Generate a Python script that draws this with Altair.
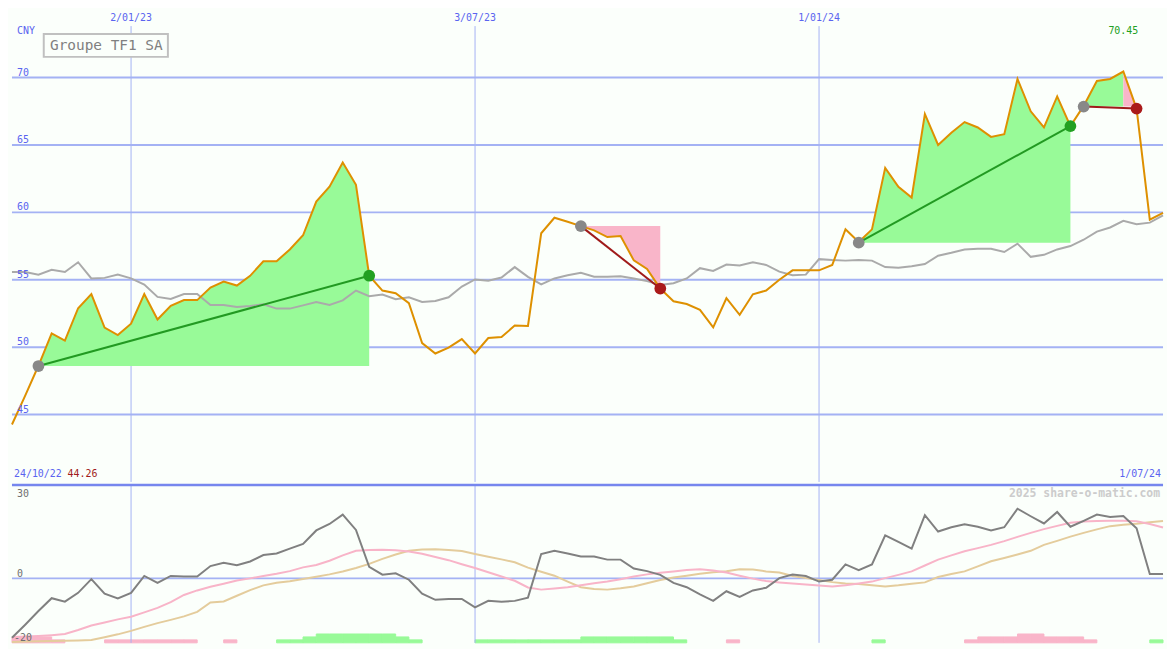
import altair as alt
import pandas as pd

# ---------------- data (weekly points, index 0 .. 87) ----------------
price = [44.26, 46.4, 48.62, 51.02, 50.49, 52.89, 53.94, 51.45, 50.9, 51.74,
         53.94, 52.05, 53.06, 53.49, 53.49, 54.42, 54.86, 54.57, 55.29, 56.37,
         56.37, 57.25, 58.3, 60.8, 61.9, 63.7, 62.05, 55.3, 54.2, 54.0,
         53.27, 50.3, 49.53, 49.96, 50.6, 49.53, 50.68, 50.75, 51.6, 51.57,
         58.45, 59.6, 59.3, 58.98, 58.67, 58.17, 58.24, 56.44, 55.8, 54.35,
         53.4, 53.2, 52.77, 51.47, 53.63, 52.4, 53.92, 54.2, 55.0, 55.7,
         55.7, 55.7, 56.1, 58.74, 57.8, 58.74, 63.3, 61.9, 61.1, 67.3,
         65.0, 65.9, 66.7, 66.3, 65.6, 65.8, 69.9, 67.5, 66.3, 68.6,
         66.4, 67.9, 69.75, 69.9, 70.45, 67.7, 59.46, 59.96]

bench = [55.58, 55.58, 55.38, 55.74, 55.58, 56.3, 55.1, 55.14, 55.38, 55.1,
         54.64, 53.73, 53.58, 53.94, 53.94, 53.13, 53.13, 52.98, 53.06, 53.18,
         52.86, 52.86, 53.1, 53.35, 53.13, 53.47, 54.2, 53.78, 53.9, 53.55,
         53.7, 53.35, 53.42, 53.7, 54.5, 55.02, 54.93, 55.17, 55.94, 55.22,
         54.66, 55.1, 55.34, 55.52, 55.22, 55.22, 55.26, 55.1, 54.9, 54.62,
         54.74, 55.1, 55.86, 55.65, 56.13, 56.06, 56.3, 56.1, 55.6, 55.34,
         55.38, 56.53, 56.46, 56.42, 56.46, 56.42, 55.94, 55.9, 56.0, 56.17,
         56.78, 57.0, 57.25, 57.3, 57.3, 57.06, 57.68, 56.7, 56.85, 57.25,
         57.5, 57.97, 58.57, 58.88, 59.37, 59.12, 59.24, 59.77]

osc = [-22.2, -17.3, -12.2, -7.4, -8.7, -5.4, -0.3, -5.7, -7.5, -5.4,
       0.9, -1.7, 0.9, 0.7, 0.7, 4.6, 5.8, 4.9, 6.3, 8.7,
       9.3, 11.1, 12.9, 17.9, 20.3, 23.8, 18.1, 4.3, 1.4, 1.9,
       -0.5, -5.7, -8.0, -7.7, -7.7, -10.8, -8.4, -8.7, -8.4, -7.2,
       9.1, 10.3, 9.3, 8.2, 8.2, 7.0, 7.0, 3.7, 2.7, 1.3,
       -1.7, -3.3, -6.0, -8.4, -4.8, -6.9, -4.5, -3.5, 0.1, 1.4,
       0.9, -1.2, -0.5, 5.2, 3.1, 5.2, 16.1, 13.6, 11.1, 23.6,
       17.5, 19.1, 20.2, 19.3, 17.9, 19.1, 26.0, 23.2, 20.5, 24.8,
       19.3, 21.5, 23.8, 22.9, 23.3, 18.7, 1.6, 1.6]

osc_signal = [-21.9, -21.7, -21.5, -21.2, -20.8, -19.3, -17.6, -16.5, -15.3, -14.3,
              -12.7, -11.0, -8.9, -6.2, -4.5, -3.1, -2.0, -0.8, 0.0, 0.9,
              1.7, 2.7, 4.1, 5.0, 6.6, 8.6, 10.3, 10.6, 10.7, 10.5,
              10.0, 9.2, 8.0, 6.8, 5.3, 3.9, 2.3, 0.7, -0.9, -3.4,
              -4.2, -3.8, -3.3, -2.6, -1.8, -1.2, -0.3, 0.7, 1.5, 2.1,
              2.6, 3.1, 3.4, 2.9, 2.2, 1.0, -0.1, -1.0, -1.5, -1.9,
              -2.3, -2.7, -3.0, -2.6, -1.9, -1.2, 0.1, 1.3, 2.6, 4.8,
              7.0, 8.6, 10.1, 11.3, 12.5, 13.9, 15.5, 17.0, 18.4, 19.6,
              20.8, 21.2, 21.4, 21.5, 21.5, 21.3, 20.3, 19.0]

osc_slow = [-23.8, -23.6, -23.5, -23.4, -23.3, -23.2, -23.0, -22.0, -20.9, -19.6,
            -18.1, -16.7, -15.5, -14.2, -12.5, -9.0, -8.6, -6.5, -4.4, -2.6,
            -1.6, -1.1, -0.2, 0.6, 1.5, 2.6, 3.9, 5.4, 7.3, 8.9,
            10.3, 10.8, 10.9, 10.6, 10.2, 9.1, 8.1, 7.1, 6.0, 4.0,
            2.5, 1.0, -1.2, -3.3, -4.0, -4.2, -3.7, -3.0, -1.8, -0.6,
            0.3, 1.0, 1.7, 2.3, 2.7, 3.4, 3.3, 2.6, 2.2, 0.9,
            0.1, -0.6, -1.4, -1.9, -2.1, -2.6, -3.0, -2.6, -2.0, -1.5,
            0.5, 1.6, 2.6, 4.5, 6.4, 7.6, 8.9, 10.3, 12.5, 14.0,
            15.6, 17.0, 18.3, 19.5, 20.0, 20.4, 21.0, 21.4]

hist_level = [-2, -2, -2, -1, 0, 0, 0, -1, -1, -1,
              -1, -1, -1, -1, 0, 0, -1, 0, 0, 0,
              1, 1, 2, 3, 3, 3, 3, 3, 3, 2,
              1, 0, 0, 0, 0, 1, 1, 1, 1, 1,
              1, 1, 1, 2, 2, 2, 2, 2, 2, 2,
              1, 0, 0, 0, -1, 0, 0, 0, 0, 0,
              0, 0, 0, 0, 0, 1, 0, 0, 0, 0,
              0, 0, -1, -2, -2, -2, -3, -3, -2, -2,
              -2, -1, 0, 0, 0, 0, 1, 0]

# trades
entry_idx = [2, 43, 64, 81]
exit_idx = [27, 49, 80, 85]
entry_px = [48.6, 58.98, 57.75, 67.85]
exit_px = [55.3, 54.35, 66.4, 67.7]
trade_result = ["win", "loss", "win", "loss"]

# filled zones between price and entry level
fill_start = [2, 43, 64, 81, 84]
fill_end = [27, 49, 80, 84, 85]
fill_base = [48.6, 58.98, 57.75, 67.85, 67.85]
fill_kind = ["gain", "loss", "gain", "gain", "loss"]

price_ticks = [45, 50, 55, 60, 65, 70]
date_ticks = [9, 35, 61]
date_labels = ["2/01/23", "3/07/23", "1/01/24"]
osc_ticks_upper = [30, 0]
osc_ticks_lower = [-20]
first_date, last_date = "24/10/22", "1/07/24"

# ---------------- layout / style ----------------
W, H1, H2 = 1159, 475, 159
XDOM = [0, 87]
YTOP = [40, 75]
YBOT = [-24.07, 34.9]
BG = "#fbfffb"
GRID = "#a4b2f4"
SEP = "#7686ee"
BLUE = "#5a64f0"
FONT = "DejaVu Sans Mono"
ORANGE = "#de9000"
GFILL = "#98fa98"
PFILL = "#f9b5c9"
FILL_COL = {"gain": GFILL, "loss": PFILL}
LINE_COL = {"win": "#229a22", "loss": "#a01a1a"}
DOT_COL = {"entry": "#888888", "win": "#22a022", "loss": "#aa1a1a"}

n = len(price)
df = pd.DataFrame({"i": list(range(n)), "price": price, "bench": bench,
                   "osc": osc, "sig": osc_signal, "slow": osc_slow})

xs = alt.Scale(domain=XDOM, nice=False, zero=False)
yt = alt.Scale(domain=YTOP, nice=False, zero=False)
yb = alt.Scale(domain=YBOT, nice=False, zero=False)
X = alt.X("i:Q", scale=xs, axis=None)

# ---------- top panel ----------
tick_df = pd.DataFrame({"v": price_ticks, "t": [str(v) for v in price_ticks]})
hgrid = alt.Chart(tick_df).mark_rule(color=GRID, strokeWidth=2).encode(
    y=alt.Y("v:Q", scale=yt, axis=None))
hlab = alt.Chart(tick_df).mark_text(font=FONT, fontSize=10, color=BLUE, align="left",
                                    baseline="alphabetic", dy=-2).encode(
    x=alt.value(5), y=alt.Y("v:Q", scale=yt, axis=None), text="t:N")

dt_df = pd.DataFrame({"i": date_ticks, "t": date_labels})
vgrid_top = alt.Chart(dt_df).mark_rule(color=GRID, strokeWidth=1).encode(
    x=alt.X("i:Q", scale=xs, axis=None), y=alt.value(16), y2=alt.value(H1))
dlab = alt.Chart(dt_df).mark_text(font=FONT, fontSize=10, color=BLUE, align="center",
                                  baseline="middle").encode(
    x=alt.X("i:Q", scale=xs, axis=None), y=alt.value(8), text="t:N")

cny = alt.Chart(pd.DataFrame({"t": ["CNY"]})).mark_text(
    font=FONT, fontSize=10, color=BLUE, align="left", baseline="middle").encode(
    x=alt.value(5), y=alt.value(21), text="t:N")

title_df = pd.DataFrame({"t": ["Groupe TF1 SA"]})
tbox = alt.Chart(title_df).mark_rect(fill=BG, stroke="#c0c0c0", strokeWidth=2).encode(
    x=alt.value(32), x2=alt.value(157), y=alt.value(24), y2=alt.value(47))
ttxt = alt.Chart(title_df).mark_text(font=FONT, fontSize=14.5, color="#808080",
                                     align="center", baseline="middle").encode(
    x=alt.value(95), y=alt.value(36), text="t:N")

rows = []
for k, (s, e, b, kind) in enumerate(zip(fill_start, fill_end, fill_base, fill_kind)):
    for i in range(s, e + 1):
        rows.append({"i": i, "price": price[i], "base": b, "seg": k, "col": FILL_COL[kind]})
fill_df = pd.DataFrame(rows)
fills = alt.Chart(fill_df).mark_area(opacity=1, interpolate="linear").encode(
    x=alt.X("i:Q", scale=xs, axis=None),
    y=alt.Y("price:Q", scale=yt, axis=None, stack=None),
    y2="base:Q",
    color=alt.Color("col:N", scale=None),
    detail="seg:N")

bench_line = alt.Chart(df).mark_line(color="#aaaaaa", strokeWidth=2).encode(
    x=X, y=alt.Y("bench:Q", scale=yt, axis=None))
price_line = alt.Chart(df).mark_line(color=ORANGE, strokeWidth=2).encode(
    x=X, y=alt.Y("price:Q", scale=yt, axis=None))

trows, drows = [], []
for k in range(len(entry_idx)):
    c = LINE_COL[trade_result[k]]
    trows.append({"trade": k, "i": entry_idx[k], "px": entry_px[k], "col": c})
    trows.append({"trade": k, "i": exit_idx[k], "px": exit_px[k], "col": c})
    drows.append({"i": entry_idx[k], "px": entry_px[k], "col": DOT_COL["entry"]})
    drows.append({"i": exit_idx[k], "px": exit_px[k], "col": DOT_COL[trade_result[k]]})
trade_df = pd.DataFrame(trows)
dot_df = pd.DataFrame(drows)
trade_lines = alt.Chart(trade_df).mark_line(strokeWidth=2).encode(
    x=alt.X("i:Q", scale=xs, axis=None),
    y=alt.Y("px:Q", scale=yt, axis=None),
    color=alt.Color("col:N", scale=None),
    detail="trade:N")
dots = alt.Chart(dot_df).mark_circle(size=140, opacity=1).encode(
    x=alt.X("i:Q", scale=xs, axis=None),
    y=alt.Y("px:Q", scale=yt, axis=None),
    color=alt.Color("col:N", scale=None))

imax = price.index(max(price))
max_df = pd.DataFrame({"i": [imax], "t": [f"{max(price):.2f}"]})
max_lab = alt.Chart(max_df).mark_text(font=FONT, fontSize=10, color="#22a022",
                                      align="center", baseline="middle").encode(
    x=alt.X("i:Q", scale=xs, axis=None), y=alt.value(21), text="t:N")

foot_df = pd.DataFrame({"d": [first_date], "p": [f"{price[0]:.2f}"], "e": [last_date]})
foot_d = alt.Chart(foot_df).mark_text(font=FONT, fontSize=10, color=BLUE, align="left",
                                      baseline="middle").encode(
    x=alt.value(2), y=alt.value(H1 - 8), text="d:N")
foot_p = alt.Chart(foot_df).mark_text(font=FONT, fontSize=10, color="#a01a1a", align="left",
                                      baseline="middle").encode(
    x=alt.value(56), y=alt.value(H1 - 8), text="p:N")
foot_e = alt.Chart(foot_df).mark_text(font=FONT, fontSize=10, color=BLUE, align="right",
                                      baseline="middle").encode(
    x=alt.value(W - 2), y=alt.value(H1 - 8), text="e:N")

top = alt.layer(hgrid, vgrid_top, fills, bench_line, price_line, trade_lines, dots,
                hlab, dlab, cny, tbox, ttxt, max_lab, foot_d, foot_p, foot_e
                ).properties(width=W, height=H1)

# ---------- bottom panel ----------
HUNIT = 1.1
hist_df = pd.DataFrame({"i": list(range(n)), "lvl": hist_level})
hist_df = hist_df[hist_df["lvl"] != 0].copy()
hist_df["i1"] = hist_df["i"] + 1
hist_df["y0"] = YBOT[0]
hist_df["y1"] = YBOT[0] + hist_df["lvl"].abs() * HUNIT
hist_df["col"] = [GFILL if v > 0 else PFILL for v in hist_df["lvl"]]
bars = alt.Chart(hist_df).mark_rect(strokeWidth=1).encode(
    x=alt.X("i:Q", scale=xs, axis=None), x2="i1:Q",
    y=alt.Y("y0:Q", scale=yb, axis=None), y2="y1:Q",
    fill=alt.Fill("col:N", scale=None),
    stroke=alt.Stroke("col:N", scale=None))

zero_line = alt.Chart(pd.DataFrame({"v": [0]})).mark_rule(color=GRID, strokeWidth=2).encode(
    y=alt.Y("v:Q", scale=yb, axis=None))
vgrid_bot = alt.Chart(dt_df).mark_rule(color=GRID, strokeWidth=1).encode(
    x=alt.X("i:Q", scale=xs, axis=None))
sep_line = alt.Chart(pd.DataFrame({"v": [0]})).mark_rule(color=SEP, strokeWidth=2.5).encode(
    y=alt.value(0))

slow_line = alt.Chart(df).mark_line(color="#e4cc9c", strokeWidth=2).encode(
    x=X, y=alt.Y("slow:Q", scale=yb, axis=None))
sig_line = alt.Chart(df).mark_line(color="#f8b4c8", strokeWidth=2).encode(
    x=X, y=alt.Y("sig:Q", scale=yb, axis=None))
osc_line = alt.Chart(df).mark_line(color="#808080", strokeWidth=2).encode(
    x=X, y=alt.Y("osc:Q", scale=yb, axis=None))

ou_df = pd.DataFrame({"v": osc_ticks_upper, "t": [str(v) for v in osc_ticks_upper]})
ol_df = pd.DataFrame({"v": osc_ticks_lower, "t": [str(v) for v in osc_ticks_lower]})
olab_u = alt.Chart(ou_df).mark_text(font=FONT, fontSize=10, color="#707070", align="left",
                                    baseline="alphabetic", dy=-1).encode(
    x=alt.value(5), y=alt.Y("v:Q", scale=yb, axis=None), text="t:N")
olab_l = alt.Chart(ol_df).mark_text(font=FONT, fontSize=10, color="#707070", align="left",
                                    baseline="top", dy=1).encode(
    x=alt.value(2), y=alt.Y("v:Q", scale=yb, axis=None), text="t:N")

wm = alt.Chart(pd.DataFrame({"t": ["2025 share-o-matic.com"]})).mark_text(
    font=FONT, fontSize=11.5, fontWeight="bold", color="#cccccc", align="right",
    baseline="middle").encode(x=alt.value(W - 3), y=alt.value(9), text="t:N")

bottom = alt.layer(bars, zero_line, vgrid_bot, slow_line, sig_line, osc_line,
                   olab_u, olab_l, wm, sep_line).properties(width=W, height=H2)

chart = alt.vconcat(top, bottom, spacing=0).properties(
    background=BG, padding=0).configure_view(strokeWidth=0)

chart.save("out.html", embed_options={"renderer": "svg", "actions": False})
